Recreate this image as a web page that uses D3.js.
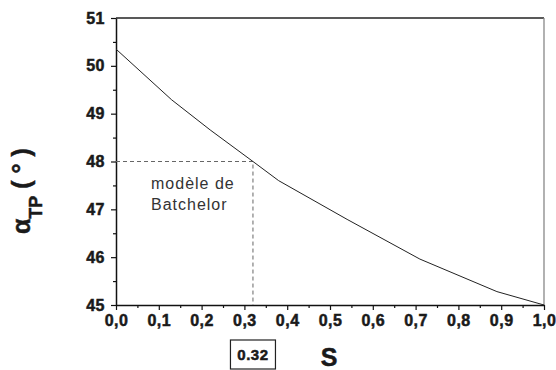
<!DOCTYPE html>
<html>
<head>
<meta charset="utf-8">
<script src="https://cdn.jsdelivr.net/npm/d3@7"></script>
<style>
  body { margin: 0; background: #fff; }
  svg { display: block; font-family: "Liberation Sans", Arial, sans-serif; }
  .heavy { stroke: #1a1a1a; stroke-width: 0.5px; paint-order: stroke; }
</style>
</head>
<body>
<div id="chart"></div>
<script>
// curve
const sValues = [0, 0.13, 0.22, 0.32, 0.38, 0.54, 0.71, 0.89, 1.0];
const alphaValues = [50.35, 49.29, 48.66, 48.0, 47.6, 46.79, 45.96, 45.28, 45.0];
const xTicks = [0, 0.1, 0.2, 0.3, 0.4, 0.5, 0.6, 0.7, 0.8, 0.9, 1.0];
const yTicks = [45, 46, 47, 48, 49, 50, 51];
const markS = 0.32;
const markAlpha = 48;

const width = 556, height = 370;
const margin = {top: 18, right: 12, bottom: 65, left: 116};
const font = "'Liberation Sans', Arial, sans-serif";

const svg = d3.select("#chart").append("svg")
    .attr("width", width)
    .attr("height", height);

const x = d3.scaleLinear().domain([0, 1]).range([margin.left, width - margin.right]);
const y = d3.scaleLinear().domain([45, 51]).range([height - margin.bottom, margin.top]);

const fmt = d => d3.format(".1f")(d).replace(".", ",");

// minor ticks
svg.append("g")
    .attr("transform", `translate(0,${y(45)})`)
    .call(d3.axisBottom(x).tickValues(d3.range(0.05, 1, 0.1)).tickSize(3).tickFormat(""))
    .call(g => g.select(".domain").remove())
    .selectAll("line").attr("stroke", "#111").attr("stroke-width", 1.2);
svg.append("g")
    .attr("transform", `translate(${x(0)},0)`)
    .call(d3.axisLeft(y).tickValues(d3.range(45.5, 51, 1)).tickSize(3).tickFormat(""))
    .call(g => g.select(".domain").remove())
    .selectAll("line").attr("stroke", "#111").attr("stroke-width", 1.2);

// frame: top dark, right grey
svg.append("line")
    .attr("x1", x(0)).attr("x2", x(1)).attr("y1", y(51)).attr("y2", y(51))
    .attr("stroke", "#222").attr("stroke-width", 1.3);
svg.append("line")
    .attr("x1", x(1)).attr("x2", x(1)).attr("y1", y(51)).attr("y2", y(45))
    .attr("stroke", "#888").attr("stroke-width", 1.3);

const xAxis = svg.append("g")
    .attr("transform", `translate(0,${y(45)})`)
    .call(d3.axisBottom(x).tickValues(xTicks).tickSize(5).tickPadding(5).tickFormat(fmt).tickSizeOuter(0));
xAxis.selectAll("text")
    .attr("class", "heavy")
    .style("font-size", "16px").style("font-weight", "bold").style("font-family", font)
    .style("letter-spacing", "0.5px")
    .attr("fill", "#1a1a1a");

const yAxis = svg.append("g")
    .attr("transform", `translate(${x(0)},0)`)
    .call(d3.axisLeft(y).tickValues(yTicks).tickSize(5).tickPadding(6).tickFormat(d3.format("d")).tickSizeOuter(0));
yAxis.selectAll("text")
    .attr("class", "heavy")
    .style("font-size", "16px").style("font-weight", "bold").style("font-family", font)
    .style("letter-spacing", "0.5px")
    .attr("fill", "#1a1a1a");

svg.selectAll(".domain").attr("stroke", "#111").attr("stroke-width", 1.5);
svg.selectAll(".tick line").attr("stroke", "#111").attr("stroke-width", 1.2);

// dashed guides
svg.append("path")
    .attr("d", `M${x(0)},${y(markAlpha)}H${x(markS)}V${y(45)}`)
    .attr("fill", "none")
    .attr("stroke", "#666")
    .attr("stroke-width", 1)
    .attr("stroke-dasharray", "4,3");

// curve
const line = d3.line().x((d, i) => x(sValues[i])).y(d => y(d));
svg.append("path")
    .datum(alphaValues)
    .attr("d", line)
    .attr("fill", "none")
    .attr("stroke", "#222")
    .attr("stroke-width", 1);

// annotation
const note = svg.append("text")
    .style("font-size", "16px")
    .style("letter-spacing", "1px")
    .attr("fill", "#333");
note.append("tspan").attr("x", 151).attr("y", 189).text("modèle de");
note.append("tspan").attr("x", 151).attr("y", 210).text("Batchelor");

// x label
svg.append("text")
    .attr("class", "heavy")
    .attr("x", 329).attr("y", 366)
    .attr("text-anchor", "middle")
    .style("font-size", "25px").style("font-weight", "bold").attr("fill", "#1a1a1a")
    .text("S");

// 0.32 box
svg.append("rect")
    .attr("x", x(markS) - 22.5).attr("y", 340)
    .attr("width", 45).attr("height", 29)
    .attr("fill", "none").attr("stroke", "#222").attr("stroke-width", 1.2);
svg.append("text")
    .attr("class", "heavy")
    .attr("x", x(markS)).attr("y", 360)
    .attr("text-anchor", "middle")
    .style("font-size", "15px").style("font-weight", "bold").style("letter-spacing", "0.5px")
    .attr("fill", "#1a1a1a")
    .text("0.32");

// y label
const ylab = svg.append("text")
    .attr("class", "heavy")
    .attr("transform", "translate(30,234) rotate(-90)")
    .attr("text-anchor", "start")
    .style("font-weight", "bold").attr("fill", "#1a1a1a");
ylab.append("tspan").style("font-size", "25px").text("α");
ylab.append("tspan").style("font-size", "18px").attr("dy", 12).text("TP");
ylab.append("tspan").style("font-size", "25px").attr("dy", -12)
    .attr("xml:space", "preserve").style("white-space", "pre").text(" ( ° )");
</script>
</body>
</html>
